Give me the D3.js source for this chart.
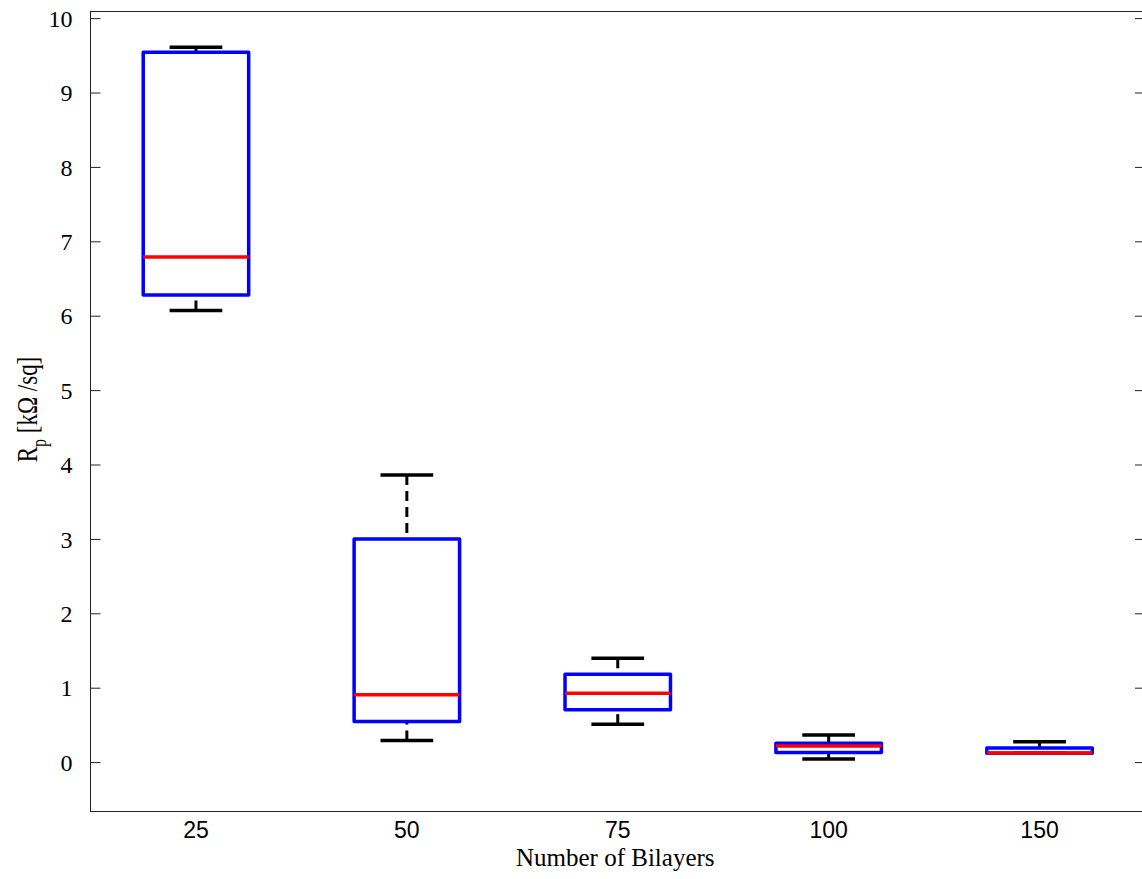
<!DOCTYPE html>
<html>
<head>
<meta charset="utf-8">
<script src="https://cdn.jsdelivr.net/npm/d3@7/dist/d3.min.js"></script>
<style>
  html, body { margin: 0; padding: 0; background: #fff; }
  svg { display: block; }
</style>
</head>
<body>
<svg id="chart" width="1142" height="879"></svg>
<script>
// Sheet resistance box-plot statistics per bilayer count
const categories = ["25", "50", "75", "100", "150"];
const whiskerLow  = [6.07, 0.29, 0.51, 0.04, 0.12];
const q1          = [6.28, 0.546, 0.703, 0.13, 0.12];
const medians     = [6.79, 0.905, 0.927, 0.215, 0.121];
const q3          = [9.54, 3.00, 1.18, 0.255, 0.188];
const whiskerHigh = [9.61, 3.86, 1.397, 0.363, 0.273];
const yTicks = [0, 1, 2, 3, 4, 5, 6, 7, 8, 9, 10];

(function () {
  const rows = categories.map((c, i) => ({
    cat: c, pos: i + 1,
    lo: whiskerLow[i], q1: q1[i], med: medians[i], q3: q3[i], hi: whiskerHigh[i]
  }));

  const svg = d3.select("#chart");
  const pLeft = 90.5, pRight = 1145, pTop = 11.5, pBottom = 811.5;

  const x = d3.scaleLinear().domain([0.5, 5.5]).range([pLeft, pRight]);
  const y = d3.scaleLinear().domain([-0.664, 10.089]).range([pBottom, pTop]);

  const boxHalf = 0.25, capHalf = 0.125;
  const serif = "'Liberation Serif', 'Times New Roman', serif";
  const sans = "'Liberation Sans', Arial, sans-serif";

  // Axes frame
  svg.append("rect")
    .attr("x", pLeft).attr("y", pTop)
    .attr("width", pRight - pLeft).attr("height", pBottom - pTop)
    .attr("fill", "none").attr("stroke", "#222").attr("stroke-width", 1);

  // Left y axis with inward ticks
  const yAxisL = d3.axisLeft(y).tickValues(yTicks).tickSizeInner(-10).tickSizeOuter(0).tickPadding(18);
  const gL = svg.append("g").attr("transform", `translate(${pLeft},0)`).call(yAxisL);
  gL.attr("font-family", null).attr("font-size", null);
  gL.select(".domain").remove();
  gL.selectAll(".tick line").attr("stroke", "#222");
  gL.selectAll(".tick text")
    .style("font-family", serif).style("font-size", "24px").attr("fill", "#000")
    .attr("dy", "0.34em");

  // Right y axis: ticks only
  const yAxisR = d3.axisRight(y).tickValues(yTicks).tickSizeInner(-10).tickSizeOuter(0).tickFormat("");
  const gR = svg.append("g").attr("transform", `translate(${pRight},0)`).call(yAxisR);
  gR.select(".domain").remove();
  gR.selectAll(".tick line").attr("stroke", "#222");

  // Category labels under each box
  svg.append("g").selectAll("text").data(rows).join("text")
    .attr("x", d => x(d.pos)).attr("y", 838)
    .attr("text-anchor", "middle")
    .style("font-family", sans).style("font-size", "23px").attr("fill", "#000")
    .text(d => d.cat);

  // Axis titles
  svg.append("text")
    .attr("x", (pLeft + 1140) / 2).attr("y", 866)
    .attr("text-anchor", "middle")
    .style("font-family", serif).style("font-size", "25px").attr("fill", "#000")
    .text("Number of Bilayers");

  const yl = svg.append("text")
    .attr("transform", `translate(37,409.5) rotate(-90) scale(1,1.3)`)
    .attr("text-anchor", "middle")
    .style("font-family", serif).style("font-size", "23px").attr("fill", "#000");
  yl.append("tspan").text("R");
  yl.append("tspan").style("font-size", "16px").attr("dy", 7).text("p");
  yl.append("tspan").attr("dy", -7).text(" [kΩ /sq]");

  const plot = svg.append("g");

  // Whiskers (dashed)
  plot.append("g").selectAll("line").data(rows).join("line")
    .attr("x1", d => x(d.pos)).attr("x2", d => x(d.pos))
    .attr("y1", d => y(d.hi)).attr("y2", d => y(d.q3))
    .attr("stroke", "#000").attr("stroke-width", 3).attr("stroke-dasharray", "10,6");
  plot.append("g").selectAll("line").data(rows).join("line")
    .attr("x1", d => x(d.pos)).attr("x2", d => x(d.pos))
    .attr("y1", d => y(d.lo)).attr("y2", d => y(d.q1))
    .attr("stroke", "#000").attr("stroke-width", 3).attr("stroke-dasharray", "10,6");

  // Whisker caps
  ["hi", "lo"].forEach(k => {
    plot.append("g").selectAll("line").data(rows).join("line")
      .attr("x1", d => x(d.pos - capHalf)).attr("x2", d => x(d.pos + capHalf))
      .attr("y1", d => y(d[k])).attr("y2", d => y(d[k]))
      .attr("stroke", "#000").attr("stroke-width", 3.5);
  });

  // Boxes
  plot.append("g").selectAll("rect").data(rows).join("rect")
    .attr("x", d => x(d.pos - boxHalf))
    .attr("width", d => x(d.pos + boxHalf) - x(d.pos - boxHalf))
    .attr("y", d => y(d.q3))
    .attr("height", d => y(d.q1) - y(d.q3))
    .attr("fill", "none").attr("stroke", "#0000ff").attr("stroke-width", 3.5)
    .attr("stroke-linejoin", "round");

  // Medians
  plot.append("g").selectAll("line").data(rows).join("line")
    .attr("x1", d => x(d.pos - boxHalf)).attr("x2", d => x(d.pos + boxHalf))
    .attr("y1", d => y(d.med)).attr("y2", d => y(d.med))
    .attr("stroke", "#ff0000").attr("stroke-width", 3.5);
})();
</script>
</body>
</html>
